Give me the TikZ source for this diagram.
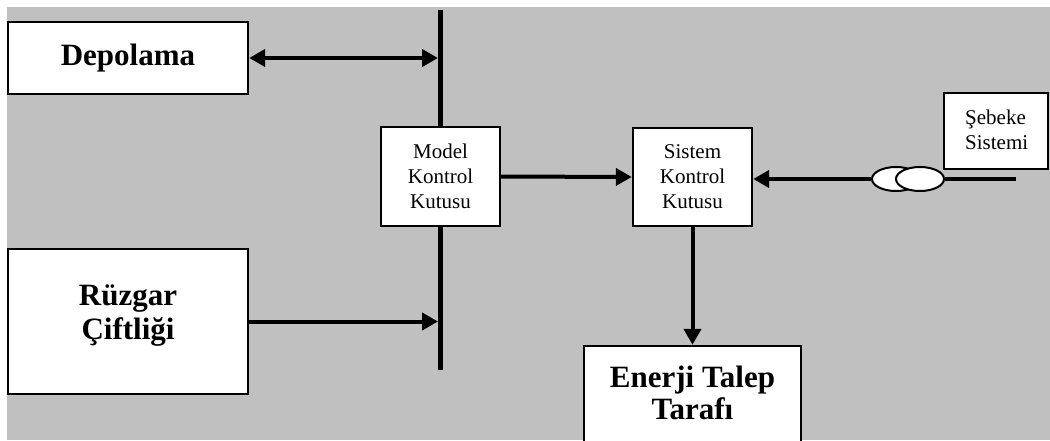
\documentclass[tikz,border=0pt]{standalone}
\usepackage{fontspec}
\setmainfont{Liberation Serif}
\usetikzlibrary{arrows.meta,shapes.geometric}
\definecolor{panelgrey}{HTML}{C0C0C0}
\tikzset{
  blockbox/.style={draw=black, line width=2.4pt, fill=white, inner sep=0pt},
  bigtxt/.style={font=\bfseries\fontsize{31}{34}\selectfont, align=center, inner sep=0pt},
  smalltxt/.style={font=\fontsize{21}{25}\selectfont, align=center, inner sep=0pt},
  flow/.style={line width=4pt, -{Triangle[length=16pt,width=17pt]}},
  biflow/.style={line width=4pt, {Triangle[length=16pt,width=17pt]}-{Triangle[length=16pt,width=17pt]}},
  coil/.style={ellipse, draw=black, line width=2pt, fill=white, minimum width=48pt, minimum height=24pt, inner sep=0pt}
}
\begin{document}
\begin{tikzpicture}[x=1pt,y=-1pt]
  \useasboundingbox (0,0) rectangle (1050,440);
  \clip (0,0) rectangle (1050,440);
  % background panel
  \fill[panelgrey] (7,7) rectangle (1050,440);

  % vertical bus bar
  \coordinate (bustop) at (440.5,10);
  \coordinate (busbot) at (440.5,370);
  \coordinate (busL) at (438,0);
  \draw[line width=5.5pt] (bustop) -- (busbot);

  % blocks
  \node[blockbox, minimum width=240pt, minimum height=72pt] (depo) at (128,58)
    {\bfseries\fontsize{31}{34}\selectfont Depolama};
  \node[blockbox, minimum width=240pt, minimum height=145pt] (ruz) at (128,321.5) {};
  \node[bigtxt] (ruztxt) at (128,316) {Rüzgar\\Çiftliği};

  \node[blockbox, smalltxt, minimum width=119pt, minimum height=99pt] (model) at (440.5,176.5)
    {Model\\Kontrol\\Kutusu};
  \node[blockbox, smalltxt, minimum width=119pt, minimum height=98pt] (sistem) at (692.5,177)
    {Sistem\\Kontrol\\Kutusu};

  \node[blockbox, minimum width=217pt, minimum height=120pt] (enerji) at (692.5,406) {};
  \node[font=\bfseries\fontsize{31}{32}\selectfont, align=center, inner sep=0pt] (enerjitxt) at (692.5,392.5)
    {Enerji Talep\\Tarafı};

  \node[blockbox, minimum width=104pt, minimum height=76pt] (sebeke) at (996,131) {};
  \node[font=\fontsize{21}{25}\selectfont, align=left, inner sep=0pt, anchor=west] (sebeketxt) at (965,130)
    {Şebeke\\Sistemi};

  % grid transformer
  \coordinate (gridend) at (1016,179);
  \node[coil] (coilA) at (896,179) {};
  \node[coil] (coilB) at (920,179) {};
  \draw[line width=4pt] (coilB.east) -- (gridend);

  % connections
  \draw[biflow] (depo.east) -- (depo.east -| busL);
  \draw[flow] (ruz.east) -- (ruz.east -| busL);
  \draw[flow] (model.east) -- (sistem.west);
  \draw[flow] (coilA.west) -- (coilA.west -| sistem.east);
  \draw[flow] (sistem.south) -- (enerji.north);
\end{tikzpicture}
\end{document}
